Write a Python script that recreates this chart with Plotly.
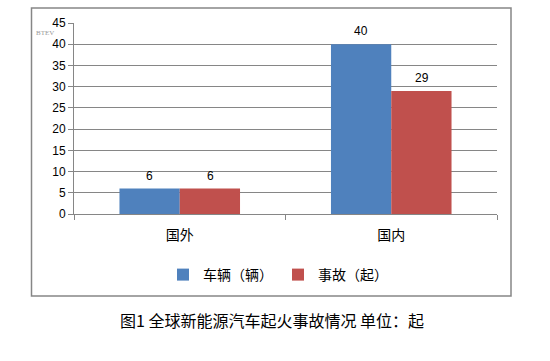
import plotly.graph_objects as go

categories = ["国外", "国内"]
vehicles = [6, 40]
accidents = [6, 29]
series_names = ["车辆（辆）", "事故（起）"]
title_text = "图1 全球新能源汽车起火事故情况 单位：起"

W, H = 550, 361
L, R, T, B = 74, 53, 23, 147
pw, ph = W - L - R, H - T - B

def px(x):
    return (x - L) / pw

def py(y):
    return (H - B - y) / ph

fig = go.Figure()
fig.add_trace(go.Bar(x=categories, y=vehicles, name=series_names[0],
                     marker=dict(color="#4F81BD", line=dict(width=0))))
fig.add_trace(go.Bar(x=categories, y=accidents, name=series_names[1],
                     marker=dict(color="#C0504D", line=dict(width=0))))

# value labels above bars
bar_half = 30.5
for series, shift in ((vehicles, -bar_half), (accidents, bar_half)):
    for cat, v in zip(categories, series):
        fig.add_annotation(x=cat, y=v, xref="x", yref="y", text=str(v),
                           showarrow=False, xshift=shift, yshift=13, yanchor="middle",
                           font=dict(size=12, color="#000000"))

fig.update_layout(
    width=W, height=H,
    margin=dict(l=L, r=R, t=T, b=B),
    paper_bgcolor="white", plot_bgcolor="white",
    barmode="group", bargap=0.43, bargroupgap=0,
    font=dict(family="Liberation Sans, Noto Sans CJK SC", color="#000000"),
    showlegend=True,
    legend=dict(orientation="h", x=px(278), xanchor="center", y=py(275), yanchor="middle",
                font=dict(size=14, family="Noto Sans CJK SC"), itemwidth=30,
                traceorder="normal"),
    xaxis=dict(showline=True, linecolor="#868686", linewidth=1,
               ticks="outside", tickson="boundaries", ticklen=5, tickcolor="#868686",
               tickfont=dict(size=14, family="Noto Sans CJK SC"), ticklabelstandoff=8,
               showgrid=False),
    yaxis=dict(range=[0, 45], dtick=5, showline=True, linecolor="#868686", linewidth=1,
               ticks="outside", ticklen=5, tickcolor="#868686",
               showgrid=True, gridcolor="#868686", gridwidth=1,
               zeroline=False, tickfont=dict(size=12)),
)

fig.add_shape(type="rect", xref="paper", yref="paper",
              x0=px(31.5), x1=px(511), y0=py(296), y1=py(8),
              line=dict(color="#868686", width=1.5), layer="below")

fig.add_annotation(text="BTEV", xref="paper", yref="paper", x=px(33.5), xanchor="left", y=py(27),
                   showarrow=False, font=dict(size=7, color="#999999", family="Liberation Serif"))
fig.add_annotation(text=title_text, xref="paper", yref="paper", x=px(272), y=py(334),
                   showarrow=False, font=dict(size=16, color="#000000", family="Noto Sans CJK SC"))

fig.write_html("out.html")
